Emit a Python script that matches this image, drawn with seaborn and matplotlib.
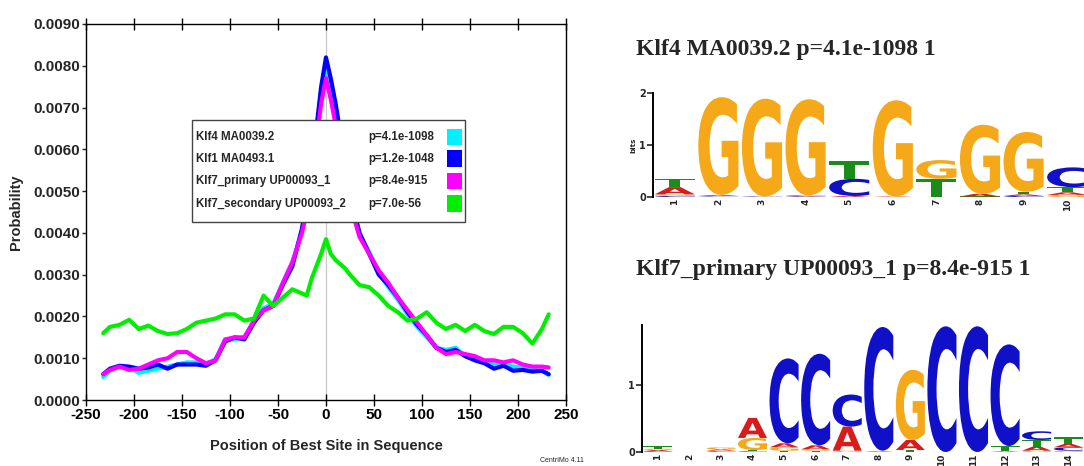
import numpy as np
import pandas as pd
import matplotlib
matplotlib.use("Agg")
import matplotlib.pyplot as plt
import seaborn as sns
from matplotlib.patches import Rectangle, PathPatch
from matplotlib.textpath import TextPath
from matplotlib.font_manager import FontProperties
from matplotlib.transforms import Affine2D
from matplotlib.ticker import FormatStrFormatter, MultipleLocator

# ---------------- site-distribution data ----------------
positions = [-232, -225, -215, -205, -195, -185, -175, -165, -155, -145, -135, -125,
             -115, -105, -95, -85, -75, -65, -55, -45, -35, -25, -20, -15, -10, -5,
             0, 5, 10, 15, 20, 25, 35, 45, 55, 65, 75, 85, 95, 105, 115, 125, 135,
             145, 155, 165, 175, 185, 195, 205, 215, 225, 232]

# probabilities, in units of 1e-3
klf4_prob = [0.55, 0.70, 0.80, 0.78, 0.65, 0.70, 0.75, 0.80, 0.85, 0.90, 0.90, 0.85,
             0.98, 1.45, 1.45, 1.50, 1.90, 2.20, 2.30, 2.80, 3.30, 4.05, 4.70, 5.50,
             6.40, 7.40, 8.00, 7.55, 6.95, 6.25, 5.50, 4.80, 3.95, 3.55, 3.05, 2.70,
             2.40, 2.05, 1.75, 1.50, 1.25, 1.20, 1.25, 1.05, 0.98, 0.90, 0.85, 0.85,
             0.80, 0.78, 0.72, 0.70, 0.60]
klf1_prob = [0.62, 0.75, 0.82, 0.80, 0.75, 0.78, 0.85, 0.75, 0.85, 0.85, 0.85, 0.82,
             0.95, 1.40, 1.50, 1.45, 1.85, 2.15, 2.25, 2.75, 3.20, 4.10, 4.80, 5.60,
             6.50, 7.50, 8.20, 7.70, 7.10, 6.40, 5.60, 4.90, 4.00, 3.50, 3.00, 2.75,
             2.45, 2.10, 1.80, 1.55, 1.25, 1.15, 1.20, 1.05, 0.95, 0.88, 0.75, 0.82,
             0.70, 0.72, 0.68, 0.70, 0.62]
klf7p_prob = [0.62, 0.72, 0.80, 0.72, 0.75, 0.85, 0.95, 1.00, 1.15, 1.15, 1.00, 0.88,
              0.95, 1.45, 1.50, 1.50, 1.90, 2.15, 2.25, 2.80, 3.30, 4.00, 4.50, 5.30,
              6.20, 7.10, 7.70, 7.20, 6.60, 5.90, 5.30, 4.70, 3.90, 3.50, 3.10, 2.80,
              2.45, 2.15, 1.85, 1.55, 1.25, 1.10, 1.15, 1.10, 1.05, 0.95, 0.95, 0.90,
              0.95, 0.85, 0.80, 0.80, 0.78]
klf7s_prob = [1.60, 1.75, 1.80, 1.92, 1.70, 1.78, 1.65, 1.58, 1.60, 1.70, 1.85, 1.90,
              1.95, 2.05, 2.05, 1.90, 1.95, 2.50, 2.25, 2.45, 2.65, 2.55, 2.50, 2.90,
              3.20, 3.50, 3.85, 3.50, 3.35, 3.25, 3.15, 3.00, 2.75, 2.70, 2.50, 2.25,
              2.10, 1.90, 1.95, 2.10, 1.85, 1.70, 1.80, 1.65, 1.80, 1.65, 1.58, 1.75,
              1.75, 1.60, 1.35, 1.70, 2.05]

motif_names = ["Klf4 MA0039.2", "Klf1 MA0493.1", "Klf7_primary UP00093_1",
               "Klf7_secondary UP00093_2"]
motif_pvalues = ["p=4.1e-1098", "p=1.2e-1048", "p=8.4e-915", "p=7.0e-56"]
motif_colors = ["#00f0ff", "#0000ff", "#ff00ff", "#00ee00"]
series = [klf4_prob, klf1_prob, klf7p_prob, klf7s_prob]

# ---------------- motif logo data (bits per letter) ----------------
klf4_logo = [
    {"C": 0.02, "G": 0.03, "A": 0.14, "T": 0.16},
    {"C": 0.01, "T": 0.01, "A": 0.02, "G": 1.88},
    {"C": 0.01, "G": 1.88},
    {"A": 0.01, "C": 0.02, "G": 1.85},
    {"A": 0.02, "C": 0.33, "T": 0.34},
    {"A": 0.01, "G": 1.85},
    {"T": 0.35, "G": 0.36},
    {"T": 0.01, "A": 0.05, "G": 1.33},
    {"C": 0.02, "A": 0.03, "T": 0.05, "G": 1.15},
    {"G": 0.04, "A": 0.05, "T": 0.10, "C": 0.38},
]
klf4_title = "Klf4 MA0039.2 p=4.1e-1098 1"

klf7_logo = [
    {"C": 0.01, "A": 0.02, "G": 0.02, "T": 0.04},
    {},
    {"C": 0.01, "T": 0.01, "A": 0.02, "G": 0.03},
    {"C": 0.01, "T": 0.02, "G": 0.18, "A": 0.30},
    {"T": 0.02, "G": 0.05, "A": 0.06, "C": 1.27},
    {"T": 0.02, "G": 0.02, "A": 0.06, "C": 1.37},
    {"G": 0.02, "A": 0.36, "C": 0.48},
    {"A": 0.01, "T": 0.01, "C": 1.85},
    {"T": 0.03, "A": 0.15, "G": 1.05},
    {"C": 1.88},
    {"C": 1.88},
    {"A": 0.01, "T": 0.08, "C": 1.52},
    {"G": 0.02, "A": 0.06, "T": 0.10, "C": 0.13},
    {"G": 0.02, "C": 0.05, "A": 0.05, "T": 0.10},
]
klf7_title = "Klf7_primary UP00093_1 p=8.4e-915 1"

base_colors = {"A": "#d81c1c", "C": "#1010c8", "G": "#f5a818", "T": "#1a8c1a"}

# ---------------- figure ----------------
sns.set_theme(style="ticks")
plt.rcParams["font.family"] = ["Liberation Sans", "DejaVu Sans"]
plt.rcParams["axes.unicode_minus"] = False

fig = plt.figure(figsize=(10.84, 4.66), dpi=100)

ax = fig.add_axes([0.0793, 0.1416, 0.4428, 0.8069])
frames = [pd.DataFrame({"position": positions,
                        "probability": np.array(v) * 1e-3,
                        "motif": n}) for n, v in zip(motif_names, series)]
df = pd.concat(frames, ignore_index=True)

ax.axvline(0, color="#c8c8c8", lw=0.9, zorder=0)
sns.lineplot(data=df, x="position", y="probability", hue="motif",
             hue_order=motif_names, palette=motif_colors, linewidth=3.0,
             estimator=None, sort=False, legend=False, ax=ax)

ax.set_xlim(-250, 250)
ax.set_ylim(0, 0.009)
ax.xaxis.set_major_locator(MultipleLocator(50))
ax.yaxis.set_major_locator(MultipleLocator(0.001))
ax.yaxis.set_major_formatter(FormatStrFormatter("%.4f"))
for lab in ax.get_xticklabels() + ax.get_yticklabels():
    lab.set_fontsize(11)
    lab.set_fontweight("bold")
ax.tick_params(axis="x", which="both", direction="inout", length=8, width=1,
               top=True, labeltop=False, pad=2, colors="black")
ax.tick_params(axis="y", direction="out", length=3, width=1, pad=1)
for s in ax.spines.values():
    s.set_linewidth(1.0)
    s.set_color("black")
ax.set_xlabel("Position of Best Site in Sequence", fontsize=10.5,
              fontweight="bold", labelpad=12)
ax.set_ylabel("Probability", fontsize=10.5, fontweight="bold", labelpad=8)

# legend box
lg_x0, lg_x1, lg_y0, lg_y1 = 0.221, 0.790, 0.473, 0.745
ax.add_patch(Rectangle((lg_x0, lg_y0), lg_x1 - lg_x0, lg_y1 - lg_y0,
                       transform=ax.transAxes, fc="white", ec="#444444",
                       lw=1.0, zorder=10))
row_y = [0.699, 0.642, 0.582, 0.522]
for name, pv, col, yy in zip(motif_names, motif_pvalues, motif_colors, row_y):
    ax.text(0.229, yy, name, transform=ax.transAxes, fontsize=8.3,
            fontweight="bold", va="center", ha="left", zorder=11)
    ax.text(0.5875, yy, pv, transform=ax.transAxes, fontsize=8.3,
            fontweight="bold", va="center", ha="left", zorder=11)
    ax.add_patch(Rectangle((0.752, yy - 0.022), 0.031, 0.044,
                           transform=ax.transAxes, fc=col, ec="none", zorder=11))

fig.text(0.498, 0.005, "CentriMo 4.11", fontsize=5, ha="left", va="bottom")

# ---------------- logos ----------------
logo_fp = FontProperties(family="DejaVu Sans", weight="bold")


def draw_letter(axl, ch, xc, y0, w, h, color):
    if h <= 0:
        return
    tp = TextPath((0, 0), ch, size=1, prop=logo_fp)
    bb = tp.get_extents()
    tr = (Affine2D().translate(-bb.x0, -bb.y0)
          .scale(w / bb.width, h / bb.height)
          .translate(xc - w / 2, y0))
    axl.add_patch(PathPatch(tr.transform_path(tp), fc=color, ec="none", lw=0))


def draw_logo(axl, columns, ymax, yticks):
    for i, col in enumerate(columns, start=1):
        y = 0.0
        for base, h in sorted(col.items(), key=lambda kv: kv[1]):
            draw_letter(axl, base, i, y, 0.92, h, base_colors[base])
            y += h
    axl.set_xlim(0.5, len(columns) + 0.5)
    axl.set_ylim(0, ymax)
    axl.set_xticks(range(1, len(columns) + 1))
    axl.set_xticklabels([str(i) for i in range(1, len(columns) + 1)],
                        rotation=90, fontsize=6.5, fontweight="bold",
                        family="DejaVu Sans")
    axl.set_yticks(yticks)
    axl.set_yticklabels([str(t) for t in yticks], fontsize=7,
                        fontweight="bold", family="DejaVu Sans")
    axl.tick_params(axis="x", length=0, pad=1)
    axl.tick_params(axis="y", length=4, width=1.2, pad=1, direction="out")
    for side in ("top", "right", "bottom"):
        axl.spines[side].set_visible(False)
    axl.spines["left"].set_linewidth(1.4)
    axl.spines["left"].set_color("black")
    axl.patch.set_alpha(0)


ax1 = fig.add_axes([653 / 1084, 269 / 466, 436 / 1084, 104 / 466])
draw_logo(ax1, klf4_logo, 2.0, [0, 1, 2])
ax1.set_ylabel("bits", fontsize=5, fontweight="bold", family="DejaVu Sans",
               labelpad=2)

ax2 = fig.add_axes([642 / 1084, 14 / 466, 442 / 1084, 127 / 466])
draw_logo(ax2, klf7_logo, 1.9, [0, 1])

title_font = dict(family=["Liberation Serif", "DejaVu Serif"], fontweight="bold",
                  fontsize=17, ha="left", va="baseline")
fig.text(636 / 1084, (466 - 55) / 466, klf4_title, **title_font)
fig.text(636 / 1084, (466 - 275) / 466, klf7_title, **title_font)

fig.savefig("out.png", dpi=100)
